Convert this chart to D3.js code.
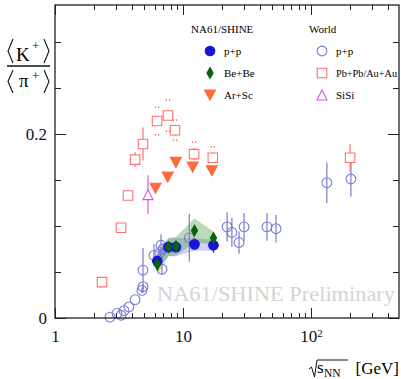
<html>
<head>
<meta charset="utf-8">
<title>K+/pi+ ratio</title>
<script src="https://d3js.org/d3.v7.min.js"></script>
<style>
  body { margin: 0; background: white; }
  text { font-family: "Liberation Serif", "DejaVu Serif", serif; }
  .axis path { display: none; }
  .axis line { stroke: #222; shape-rendering: crispEdges; }
  .axis text { font-size: 17px; fill: #111; font-family: "Liberation Serif", serif; }
</style>
</head>
<body>
<script>
var w = 401, h = 379;

// NA61/SHINE
var na61Energy = [6.3, 7.7, 8.8, 12.3, 17.3];
var ppY   = [0.062, 0.077, 0.077, 0.080, 0.079];
var ppErr = [0.004, 0.004, 0.004, 0.004, 0.008];
var ppSys = [0.008, 0.010, 0.010, 0.007, 0.006];
var beY   = [0.058, 0.077, 0.078, 0.095, 0.087];
var beErr = [0.004, 0.004, 0.004, 0.004, 0.004];
var beSys = [0.011, 0.010, 0.010, 0.013, 0.007];
var arEnergy = [6.1, 7.6, 8.8, 11.9, 16.8];
var arY   = [0.141, 0.153, 0.169, 0.164, 0.160];
var arErr = [0.003, 0.004, 0.006, 0.005, 0.005];

// World data
var wppX = [2.69, 3.05, 3.28, 3.46, 3.78, 4.22, 4.78, 4.87, 4.87, 5.93, 6.6, 6.73, 6.85, 6.98, 11.2, 22.1, 24.1, 27.4, 30.0, 45.3, 53.3, 133, 205];
var wppY = [0.001, 0.005, 0.003, 0.008, 0.012, 0.020, 0.030, 0.034, 0.052, 0.068, 0.071, 0.079, 0.053, 0.075, 0.087, 0.099, 0.093, 0.082, 0.099, 0.099, 0.097, 0.147, 0.151];
var wppErr = [0, 0, 0, 0, 0, 0, 0.003, 0.003, 0.024, 0.012, 0.004, 0.012, 0.006, 0.006, 0.026, 0.016, 0.016, 0.012, 0.015, 0.015, 0.015, 0.022, 0.019];
var pbX = [2.33, 3.28, 3.72, 4.22, 4.87, 6.27, 7.63, 8.66, 12.2, 17.1, 202];
var pbY = [0.039, 0.098, 0.133, 0.172, 0.189, 0.214, 0.220, 0.204, 0.178, 0.174, 0.174];
var pbErr = [0, 0, 0.003, 0.008, 0.018, 0, 0, 0.006, 0.007, 0.006, 0.015];
var pbSys = [0, 0, 0, 0, 0, 0.015, 0.017, 0.011, 0.013, 0.012, 0];
var siX = [5.33], siY = [0.134], siErr = [0.021];

// axis ticks
var xMajor = [1, 10, 100];
var xMinor = [2,3,4,5,6,7,8,9,20,30,40,50,60,70,80,90,200,300,400];
var yMajor = [0, 0.2];
var yMinor = [0.05, 0.1, 0.15, 0.25, 0.3];

var cPP = "#1515d8", cBe = "#0b620b", cAr = "#ff6a3a",
    cWpp = "#7a7ad4", cPb = "#ff7070", cSi = "#dd55dd";

var x = d3.scaleLog().domain([1, 487]).range([55, 399]);
var y = d3.scaleLinear().domain([0, 0.34]).range([318, 5]);

var svg = d3.select("body").append("svg").attr("width", w).attr("height", h);

// watermark
svg.append("text").attr("x", 157).attr("y", 301)
   .attr("font-size", "20px").attr("fill", "#d4d4d4")
   .attr("textLength", 238).attr("lengthAdjust", "spacingAndGlyphs")
   .text("NA61/SHINE Preliminary");

// systematic bands
function band(ys, sys, color) {
  var pts = na61Energy.map(function(e, i) { return [e, ys[i], sys[i]]; });
  var area = d3.area()
    .x(function(d) { return x(d[0]); })
    .y0(function(d) { return y(d[1] - d[2]); })
    .y1(function(d) { return y(d[1] + d[2]); });
  svg.append("path").attr("d", area(pts)).attr("fill", color);
}
band(ppY, ppSys, "rgba(90,90,230,0.28)");
band(beY, beSys, "rgba(40,140,40,0.32)");

function errBars(xs, ys, es, color) {
  var pts = xs.map(function(v, i) { return [v, ys[i], es[i]]; })
              .filter(function(d) { return d[2] > 0; });
  svg.append("g").selectAll("line").data(pts).enter().append("line")
    .attr("x1", function(d) { return x(d[0]); })
    .attr("x2", function(d) { return x(d[0]); })
    .attr("y1", function(d) { return y(d[1] - d[2]); })
    .attr("y2", function(d) { return y(d[1] + d[2]); })
    .attr("stroke", color).attr("stroke-width", 1.2);
}

function markers(xs, ys, sym, size, fill, stroke) {
  svg.append("g").selectAll("path").data(xs).enter().append("path")
    .attr("d", d3.symbol().type(sym).size(size))
    .attr("transform", function(d, i) { return "translate(" + x(d) + "," + y(ys[i]) + ")"; })
    .attr("fill", fill).attr("stroke", stroke).attr("stroke-width", 1.1);
}

var diamond = {
  draw: function(ctx, size) {
    var a = Math.sqrt(size) / 2;
    ctx.moveTo(0, -a * 1.4); ctx.lineTo(a * 0.8, 0); ctx.lineTo(0, a * 1.4); ctx.lineTo(-a * 0.8, 0); ctx.closePath();
  }
};
var triDown = {
  draw: function(ctx, size) {
    var a = Math.sqrt(size) / 2;
    ctx.moveTo(-a * 1.1, -a); ctx.lineTo(a * 1.1, -a); ctx.lineTo(0, a); ctx.closePath();
  }
};
var triUp = {
  draw: function(ctx, size) {
    var a = Math.sqrt(size) / 2;
    ctx.moveTo(-a, a); ctx.lineTo(a, a); ctx.lineTo(0, -a); ctx.closePath();
  }
};

// world p+p
errBars(wppX, wppY, wppErr, cWpp);
markers(wppX, wppY, d3.symbolCircle, 75, "none", cWpp);

// Pb+Pb/Au+Au
errBars(pbX, pbY, pbErr, cPb);
var sysDots = [];
pbX.forEach(function(v, i) {
  if (pbSys[i] > 0) { sysDots.push([v, pbY[i] + pbSys[i]]); sysDots.push([v, pbY[i] - pbSys[i]]); }
});
svg.append("g").selectAll("g").data(sysDots).enter().append("g")
  .attr("transform", function(d) { return "translate(" + x(d[0]) + "," + y(d[1]) + ")"; })
  .each(function() {
    d3.select(this).append("rect").attr("x", -2.2).attr("y", -0.8).attr("width", 1.3).attr("height", 1.6).attr("fill", cPb);
    d3.select(this).append("rect").attr("x", 0.9).attr("y", -0.8).attr("width", 1.3).attr("height", 1.6).attr("fill", cPb);
  });
markers(pbX, pbY, d3.symbolSquare, 90, "white", cPb);

// SiSi
errBars(siX, siY, siErr, cSi);
markers(siX, siY, triUp, 100, "white", cSi);

// Ar+Sc
errBars(arEnergy, arY, arErr, cAr);
markers(arEnergy, arY, triDown, 100, cAr, cAr);

// NA61 p+p and Be+Be
errBars(na61Energy, ppY, ppErr, cPP);
markers(na61Energy, ppY, d3.symbolCircle, 72, cPP, cPP);
errBars(na61Energy, beY, beErr, cBe);
markers(na61Energy, beY, diamond, 60, cBe, cBe);

// axes
function addAxis(axis, tr) {
  return svg.append("g").attr("class", "axis").attr("transform", tr).call(axis);
}
var xb = addAxis(d3.axisBottom(x).tickValues(xMajor).tickSize(-10).tickPadding(12)
  .tickFormat(function(d) { return d === 100 ? "10" : d; }), "translate(0,318)");
xb.selectAll(".tick").filter(function(d) { return d === 100; }).select("text")
  .append("tspan").attr("dy", "-0.45em").attr("font-size", "11px").text("2");
addAxis(d3.axisBottom(x).tickValues(xMinor).tickSize(-5).tickFormat(""), "translate(0,318)");
addAxis(d3.axisTop(x).tickValues(xMajor).tickSize(-10).tickFormat(""), "translate(0,5)");
addAxis(d3.axisTop(x).tickValues(xMinor).tickSize(-5).tickFormat(""), "translate(0,5)");
addAxis(d3.axisLeft(y).tickValues(yMajor).tickSize(-11).tickPadding(8)
  .tickFormat(function(d) { return d === 0 ? "0" : d3.format(".1f")(d); }), "translate(55,0)");
addAxis(d3.axisLeft(y).tickValues(yMinor).tickSize(-6).tickFormat(""), "translate(55,0)");
addAxis(d3.axisRight(y).tickValues(yMajor).tickSize(-11).tickFormat(""), "translate(399,0)");
addAxis(d3.axisRight(y).tickValues(yMinor).tickSize(-6).tickFormat(""), "translate(399,0)");

// frame
svg.append("rect").attr("x", 55).attr("y", 5).attr("width", 344).attr("height", 313)
   .attr("fill", "none").attr("stroke", "#222").attr("stroke-width", 1.3);

// y title: <K+>/<pi+>
function bracketPair(x0, x1, top, bot) {
  var mid = (top + bot) / 2;
  svg.append("path").attr("d", "M" + (x0 + 5) + "," + top + "L" + x0 + "," + mid + "L" + (x0 + 5) + "," + bot)
     .attr("fill", "none").attr("stroke", "#111").attr("stroke-width", 1.1);
  svg.append("path").attr("d", "M" + (x1 - 5) + "," + top + "L" + x1 + "," + mid + "L" + (x1 - 5) + "," + bot)
     .attr("fill", "none").attr("stroke", "#111").attr("stroke-width", 1.1);
}
bracketPair(8, 49, 39, 63);
svg.append("text").attr("x", 16).attr("y", 61).attr("font-size", "19px").text("K");
svg.append("text").attr("x", 32).attr("y", 50).attr("font-size", "13px").text("+");
svg.append("line").attr("x1", 7).attr("x2", 50).attr("y1", 66).attr("y2", 66)
   .attr("stroke", "#111").attr("stroke-width", 1.5);
bracketPair(8, 49, 70, 93);
svg.append("text").attr("x", 19).attr("y", 87).attr("font-size", "19px").text("π");
svg.append("text").attr("x", 32).attr("y", 80).attr("font-size", "13px").text("+");

// x title
svg.append("path").attr("d", "M309,369 L311.5,367 L314.5,377 L317,360 L348,360")
   .attr("fill", "none").attr("stroke", "#111").attr("stroke-width", 1);
svg.append("text").attr("x", 317).attr("y", 373).attr("font-size", "17px").text("s");
svg.append("text").attr("x", 324).attr("y", 377).attr("font-size", "11.5px").text("NN");
svg.append("text").attr("x", 399).attr("y", 374).attr("text-anchor", "end").attr("font-size", "17px").text("[GeV]");

// legend
svg.append("text").attr("x", 191).attr("y", 33).attr("font-size", "11px").text("NA61/SHINE");
svg.append("text").attr("x", 309).attr("y", 33).attr("font-size", "11px").text("World");
var legL = [["p+p", d3.symbolCircle, 72, cPP, cPP], ["Be+Be", diamond, 60, cBe, cBe], ["Ar+Sc", triDown, 100, cAr, cAr]];
var legR = [["p+p", d3.symbolCircle, 75, "none", cWpp], ["Pb+Pb/Au+Au", d3.symbolSquare, 90, "white", cPb], ["SiSi", triUp, 100, "white", cSi]];
function legend(items, lx) {
  items.forEach(function(it, i) {
    var ly = 51 + i * 22;
    svg.append("path").attr("d", d3.symbol().type(it[1]).size(it[2]))
       .attr("transform", "translate(" + lx + "," + ly + ")")
       .attr("fill", it[3]).attr("stroke", it[4]).attr("stroke-width", 1.1);
    var t = svg.append("text").attr("x", lx + 14).attr("y", ly + 4).attr("font-size", "11px").text(it[0]);
    if (it[0] === "Pb+Pb/Au+Au") t.attr("textLength", 61).attr("lengthAdjust", "spacingAndGlyphs");
  });
}
legend(legL, 210);
legend(legR, 322);
</script>
</body>
</html>
